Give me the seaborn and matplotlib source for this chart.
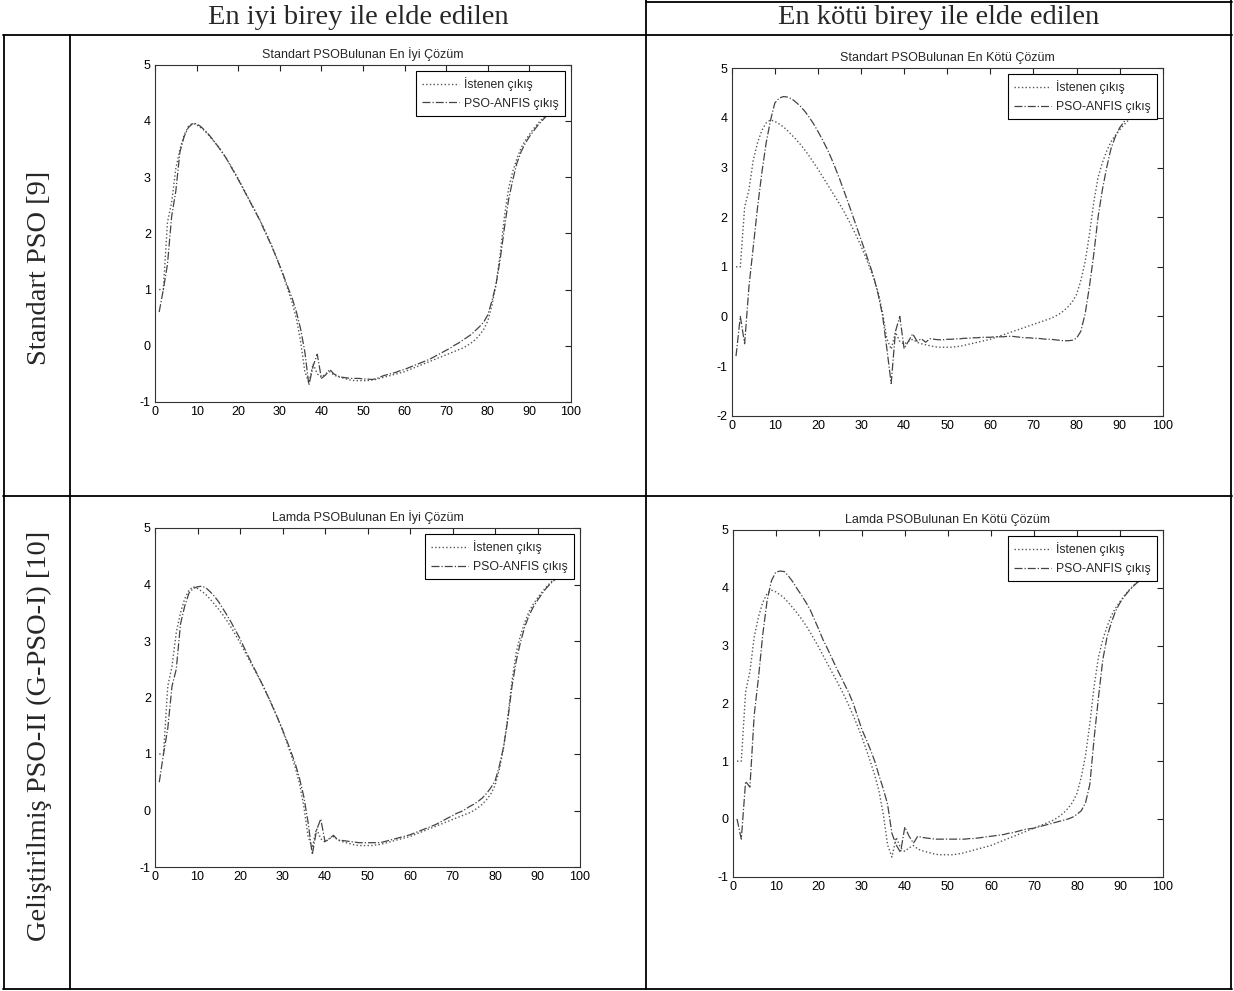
import numpy as np
import pandas as pd
import matplotlib
matplotlib.use("Agg")
import matplotlib.pyplot as plt
import seaborn as sns
from matplotlib.lines import Line2D

# ---------------- data ----------------
x_vals = list(range(1, 98))

desired = [1.00, 1.00, 2.20, 2.55, 3.15, 3.50, 3.75, 3.90, 3.96, 3.93,
           3.88, 3.82, 3.74, 3.65, 3.56, 3.46, 3.35, 3.23, 3.10, 2.97,
           2.83, 2.69, 2.55, 2.41, 2.27, 2.12, 1.96, 1.79, 1.61, 1.42,
           1.21, 0.99, 0.76, 0.48, 0.08, -0.45, -0.66, -0.32, -0.50, -0.56,
           -0.50, -0.46, -0.52, -0.55, -0.57, -0.59, -0.61, -0.62, -0.62, -0.62,
           -0.62, -0.61, -0.60, -0.58, -0.56, -0.54, -0.52, -0.50, -0.48, -0.46,
           -0.43, -0.40, -0.37, -0.34, -0.31, -0.28, -0.25, -0.22, -0.19, -0.16,
           -0.13, -0.10, -0.07, -0.04, 0.00, 0.05, 0.11, 0.19, 0.29, 0.44,
           0.72, 1.10, 1.65, 2.30, 2.80, 3.10, 3.33, 3.52, 3.65, 3.76,
           3.86, 3.95, 4.03, 4.10, 4.16, 4.21, 4.25]

pso_std_best = [0.60, 1.00, 1.45, 2.30, 2.75, 3.45, 3.72, 3.88, 3.95, 3.95,
                3.90, 3.83, 3.75, 3.66, 3.56, 3.46, 3.35, 3.22, 3.09, 2.96,
                2.82, 2.68, 2.54, 2.40, 2.26, 2.10, 1.94, 1.78, 1.60, 1.42,
                1.23, 1.03, 0.84, 0.60, 0.30, -0.10, -0.70, -0.36, -0.15, -0.58,
                -0.52, -0.42, -0.50, -0.54, -0.56, -0.57, -0.58, -0.58, -0.58, -0.59,
                -0.59, -0.60, -0.59, -0.56, -0.53, -0.51, -0.49, -0.47, -0.44, -0.42,
                -0.39, -0.36, -0.33, -0.30, -0.27, -0.24, -0.20, -0.16, -0.12, -0.08,
                -0.04, 0.01, 0.05, 0.10, 0.15, 0.20, 0.27, 0.34, 0.42, 0.55,
                0.80, 1.10, 1.55, 2.10, 2.60, 2.95, 3.25, 3.45, 3.60, 3.72,
                3.82, 3.92, 4.00, 4.08, 4.14, 4.19, 4.23]

pso_std_worst = [-0.80, 0.00, -0.55, 0.60, 1.40, 2.20, 2.90, 3.50, 3.95, 4.30,
                 4.40, 4.43, 4.42, 4.38, 4.31, 4.23, 4.13, 4.01, 3.88, 3.73,
                 3.57, 3.40, 3.21, 3.00, 2.78, 2.54, 2.30, 2.05, 1.80, 1.55,
                 1.30, 1.05, 0.78, 0.44, 0.02, -0.65, -1.35, -0.30, 0.00, -0.65,
                 -0.50, -0.35, -0.50, -0.45, -0.52, -0.45, -0.46, -0.47, -0.47, -0.46,
                 -0.46, -0.45, -0.45, -0.44, -0.44, -0.43, -0.43, -0.42, -0.42, -0.42,
                 -0.41, -0.41, -0.41, -0.40, -0.40, -0.41, -0.42, -0.43, -0.43, -0.44,
                 -0.44, -0.45, -0.46, -0.46, -0.47, -0.48, -0.49, -0.49, -0.48, -0.44,
                 -0.30, 0.05, 0.60, 1.25, 2.00, 2.55, 3.00, 3.38, 3.62, 3.80,
                 3.92, 4.01, 4.08, 4.13, 4.18, 4.22, 4.25]

pso_lamda_best = [0.50, 1.00, 1.45, 2.20, 2.50, 3.30, 3.62, 3.85, 3.93, 3.96,
                  3.97, 3.94, 3.87, 3.79, 3.69, 3.57, 3.45, 3.32, 3.18, 3.04,
                  2.88, 2.72, 2.57, 2.42, 2.27, 2.11, 1.95, 1.78, 1.61, 1.43,
                  1.24, 1.04, 0.83, 0.57, 0.25, -0.20, -0.78, -0.35, -0.15, -0.55,
                  -0.50, -0.44, -0.52, -0.53, -0.54, -0.55, -0.56, -0.57, -0.57, -0.57,
                  -0.57, -0.57, -0.57, -0.55, -0.53, -0.51, -0.49, -0.47, -0.45, -0.43,
                  -0.40, -0.37, -0.34, -0.31, -0.28, -0.25, -0.21, -0.17, -0.13, -0.09,
                  -0.05, -0.02, 0.02, 0.07, 0.11, 0.16, 0.22, 0.30, 0.40, 0.52,
                  0.78, 1.12, 1.60, 2.20, 2.65, 2.98, 3.25, 3.45, 3.60, 3.72,
                  3.83, 3.93, 4.01, 4.08, 4.14, 4.19, 4.23]

pso_lamda_worst = [0.00, -0.35, 0.65, 0.55, 1.80, 2.45, 3.20, 3.78, 4.12, 4.27,
                   4.29, 4.28, 4.20, 4.10, 3.98, 3.87, 3.75, 3.62, 3.45, 3.28,
                   3.10, 2.95, 2.79, 2.63, 2.48, 2.33, 2.18, 2.00, 1.78, 1.55,
                   1.38, 1.20, 1.00, 0.75, 0.52, 0.25, -0.25, -0.45, -0.58, -0.14,
                   -0.30, -0.42, -0.30, -0.32, -0.33, -0.34, -0.35, -0.35, -0.35, -0.35,
                   -0.35, -0.35, -0.35, -0.35, -0.34, -0.34, -0.33, -0.32, -0.31, -0.30,
                   -0.29, -0.28, -0.27, -0.25, -0.24, -0.22, -0.20, -0.18, -0.17, -0.16,
                   -0.14, -0.12, -0.10, -0.08, -0.06, -0.04, -0.02, 0.00, 0.03, 0.08,
                   0.14, 0.28, 0.60, 1.40, 2.10, 2.75, 3.15, 3.40, 3.60, 3.74,
                   3.85, 3.94, 4.02, 4.09, 4.14, 4.19, 4.23]

panel_titles = ["Standart PSOBulunan En İyi Çözüm", "Standart PSOBulunan En Kötü Çözüm",
                "Lamda PSOBulunan En İyi Çözüm", "Lamda PSOBulunan En Kötü Çözüm"]
legend_labels = ["İstenen çıkış", "PSO-ANFIS çıkış"]
col_headers = ["En iyi birey ile elde edilen", "En kötü birey ile elde edilen"]
row_headers = ["Standart PSO [9]", "Geliştirilmiş PSO-II (G-PSO-I) [10]"]
x_ticks = list(range(0, 101, 10))

# ---------------- figure ----------------
W, H = 1234, 991
sns.set_theme(style="white")
plt.rcParams["font.family"] = ["Liberation Sans", "DejaVu Sans"]
plt.rcParams["axes.unicode_minus"] = False
fig = plt.figure(figsize=(W / 100, H / 100), dpi=100)
fig.patch.set_facecolor("white")


def rect(x0, y0, x1, y1):
    return [x0 / W, 1 - y1 / H, (x1 - x0) / W, (y1 - y0) / H]


panels = [
    (rect(155, 64.7, 571, 402), pso_std_best, (-1, 5), panel_titles[0]),
    (rect(731.7, 68.3, 1162.7, 415.7), pso_std_worst, (-2, 5), panel_titles[1]),
    (rect(155, 528, 580, 867), pso_lamda_best, (-1, 5), panel_titles[2]),
    (rect(732.7, 530, 1163, 876.7), pso_lamda_worst, (-1, 5), panel_titles[3]),
]

for r, pso, ylim, title in panels:
    ax = fig.add_axes(r)
    df = pd.DataFrame({"x": x_vals, "desired": desired, "pso": pso})
    sns.lineplot(data=df, x="x", y="desired", ax=ax, color="#555555",
                 linestyle=":", linewidth=1.0, label=legend_labels[0])
    sns.lineplot(data=df, x="x", y="pso", ax=ax, color="#444444",
                 linestyle="-.", linewidth=0.9, label=legend_labels[1])
    ax.set_xlim(0, 100)
    ax.set_ylim(*ylim)
    ax.set_xticks(x_ticks)
    ax.set_yticks(list(range(ylim[0], ylim[1] + 1)))
    ax.set_xlabel("")
    ax.set_ylabel("")
    ax.tick_params(direction="in", top=True, right=True, length=4, width=0.8,
                   labelsize=9, pad=3, colors="#222222", labelcolor="black")
    for s in ax.spines.values():
        s.set_color("#333333")
        s.set_linewidth(0.8)
    ax.set_title(title, fontsize=9, pad=5)
    leg = ax.legend(loc="upper right", fontsize=8.8, frameon=True, fancybox=False,
                    edgecolor="black", framealpha=1, handlelength=3.0,
                    handletextpad=0.4, borderaxespad=0.5, labelspacing=0.55,
                    borderpad=0.5)
    leg.get_frame().set_linewidth(0.8)

# ---------------- table grid ----------------
def hline(y, x0, x1, lw=1.3):
    fig.add_artist(Line2D([x0 / W, x1 / W], [1 - y / H, 1 - y / H],
                          transform=fig.transFigure, color="black", lw=lw))


def vline(x, y0, y1, lw=1.3):
    fig.add_artist(Line2D([x / W, x / W], [1 - y0 / H, 1 - y1 / H],
                          transform=fig.transFigure, color="black", lw=lw))


hline(35, 3, 1232)
hline(496, 3, 1232)
hline(989, 3, 1232)
hline(1.5, 646, 1232)
vline(646, 0, 989)
vline(70, 35, 989)
vline(4, 35, 989)
vline(1231, 0, 989)

# ---------------- header texts ----------------
serif = ["Liberation Serif", "DejaVu Serif"]
fig.text(358 / W, 1 - 18 / H, col_headers[0], ha="center", va="center",
         family=serif, fontsize=20.5)
fig.text(939 / W, 1 - 18 / H, col_headers[1], ha="center", va="center",
         family=serif, fontsize=20.5)
fig.text(40 / W, 1 - 268 / H, row_headers[0], ha="center", va="center",
         rotation=90, family=serif, fontsize=20.5)
fig.text(39 / W, 1 - 736 / H, row_headers[1], ha="center", va="center",
         rotation=90, family=serif, fontsize=20.5)

fig.savefig("out.png", dpi=100, facecolor="white")
